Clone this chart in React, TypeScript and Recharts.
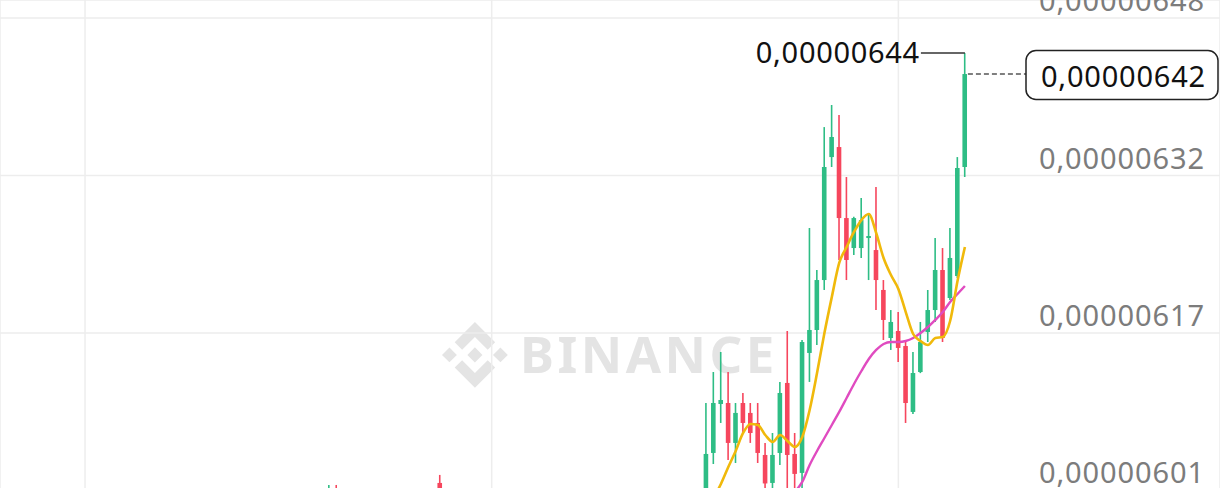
import { Bar, CartesianGrid, ComposedChart, Line, ReferenceDot, XAxis, YAxis } from 'recharts'

const CHART_W = 1220
const CHART_H = 500
const SLOTS = 165
const GREEN = '#2EBD85'
const RED = '#F6465D'
const FONT = '"Noto Sans", sans-serif'

// prices are in units of 0.00000001
const candleSlots = [44, 45, 59, 95, 96, 97, 98, 99, 100, 101, 102, 103, 104, 105, 106, 107, 108, 109, 110, 111, 112, 113, 114, 115, 116, 117, 118, 119, 120, 121, 122, 123, 124, 125, 126, 127, 128, 129, 130]
const opens = [599.0, 600.5, 601.65, 600.45, 604.64, 609.52, 609.62, 605.64, 609.62, 608.63, 607.63, 604.44, 601.65, 604.64, 611.62, 604.54, 602.65, 614.61, 616.9, 621.88, 634.14, 635.14, 628.06, 625.07, 625.07, 626.07, 624.87, 620.89, 616.1, 616.8, 615.3, 608.73, 612.71, 616.7, 618.89, 622.88, 620.09, 622.28, 633.15]
const highs = [601.45, 601.45, 602.45, 609.62, 612.71, 614.71, 612.71, 609.62, 610.62, 609.62, 609.62, 605.64, 606.63, 611.72, 616.8, 606.63, 615.9, 627.07, 622.88, 637.13, 639.33, 638.33, 632.15, 628.2, 630.06, 628.56, 631.15, 621.88, 618.89, 618.69, 615.7, 614.71, 617.7, 620.89, 626.07, 625.07, 627.07, 634.14, 644.51]
const lows = [598.5, 599.0, 599.2, 599.6, 603.54, 607.63, 603.94, 603.64, 606.63, 605.64, 603.64, 600.75, 600.75, 603.44, 600.45, 600.45, 600.9, 611.72, 615.4, 620.89, 633.15, 623.88, 621.88, 624.38, 624.08, 621.88, 618.89, 615.9, 614.91, 613.71, 607.63, 608.53, 612.6, 615.7, 617.7, 615.7, 619.89, 622.08, 632.15]
const closes = [600.6, 599.5, 599.8, 604.54, 609.62, 609.92, 605.64, 608.63, 607.63, 606.63, 604.64, 601.6, 604.44, 610.62, 604.44, 602.55, 615.7, 616.9, 621.88, 633.15, 636.14, 628.06, 623.88, 628.06, 627.86, 626.27, 621.88, 617.9, 617.7, 615.11, 609.62, 612.61, 615.7, 618.89, 622.88, 616.1, 624.08, 633.05, 642.42]

const ma7Start = 95
const ma7 = [598.96, 600.15, 601.55, 603.24, 604.84, 606.63, 607.53, 607.43, 606.43, 605.74, 606.43, 605.84, 605.24, 606.23, 608.93, 612.61, 616.6, 620.19, 623.58, 625.17, 626.67, 627.86, 628.46, 626.57, 624.08, 622.38, 620.99, 618.69, 616.5, 615.8, 615.4, 616.1, 616.2, 617.8, 621.78, 625.17]
const ma25Start = 104
const ma25 = [598.46, 599.16, 599.95, 600.75, 601.75, 603.44, 604.84, 606.13, 607.43, 608.73, 610.12, 611.52, 612.81, 614.01, 614.91, 615.5, 615.7, 615.7, 615.8, 616.1, 616.6, 617.2, 617.9, 618.69, 619.69, 620.49, 621.29]

const priceTicks = [648, 632.3, 616.6, 600.9]
const priceDomain = [599.95, 649.8]
const timeTicks = [11, 66, 121]

const rows = Array.from({ length: SLOTS }, (_, t) => {
    const k = candleSlots.indexOf(t)
    const a = t - ma7Start
    const b = t - ma25Start
    return {
        t,
        open: k >= 0 ? opens[k] : null,
        high: k >= 0 ? highs[k] : null,
        low: k >= 0 ? lows[k] : null,
        close: k >= 0 ? closes[k] : null,
        range: k >= 0 ? [lows[k], highs[k]] : null,
        ma7: a >= 0 && a < ma7.length ? ma7[a] : null,
        ma25: b >= 0 && b < ma25.length ? ma25[b] : null,
    }
})

const last = candleSlots.length - 1

const fmtTick = (v: number) => (Math.round(v) / 1e8).toFixed(8).replace('.', ',')
const fmtPrice = (v: number) => (Math.floor(v + 1e-6) / 1e8).toFixed(8).replace('.', ',')

const Candle = (props: any) => {
    const { x, y, width, height, payload } = props
    if (!payload || payload.high == null || height == null) return null
    const { open, high, low, close } = payload
    const top = Math.min(y, y + height)
    const h = Math.abs(height)
    const ppu = h / (high - low)
    const yOf = (v: number) => top + (high - v) * ppu
    const color = close >= open ? GREEN : RED
    const bTop = yOf(Math.max(open, close))
    const bBot = yOf(Math.min(open, close))
    const cx = x + width / 2
    return (
        <g>
            <line x1={cx} x2={cx} y1={top} y2={top + h} stroke={color} strokeWidth={1.6} />
            <rect x={cx - 2.3} y={bTop} width={4.6} height={Math.max(bBot - bTop, 1.5)} fill={color} />
        </g>
    )
}

const PriceTick = ({ y, payload }: any) => (
    <text x={CHART_W - 15} y={y - 7} textAnchor="end" fontSize={29} letterSpacing={0.9} fill="#7C7C7C" fontFamily={FONT}>
        {fmtTick(payload.value)}
    </text>
)

const HighMarker = ({ cx, cy }: any) => (
    <g>
        <line x1={cx - 44} x2={cx} y1={cy} y2={cy} stroke="#333" strokeWidth={1.5} />
        <text x={cx - 45} y={cy + 10} textAnchor="end" fontSize={29} letterSpacing={0.7} fill="#111" fontFamily={FONT}>
            {fmtPrice(highs[last])}
        </text>
    </g>
)

const LastMarker = ({ cx, cy }: any) => {
    const boxX = CHART_W - 194
    return (
        <g>
            <line x1={cx + 3} x2={boxX} y1={cy} y2={cy} stroke="#555" strokeWidth={1.3} strokeDasharray="5 3" />
            <rect x={boxX} y={cy - 23.5} width={192} height={49} rx={10} fill="#fff" stroke="#222" strokeWidth={1.5} />
            <text x={CHART_W - 14} y={cy + 13} textAnchor="end" fontSize={29} letterSpacing={0.8} fill="#111" fontFamily={FONT}>
                {fmtPrice(closes[last])}
            </text>
        </g>
    )
}

const Watermark = () => (
    <svg width={CHART_W} height={CHART_H} style={{ position: 'absolute', left: 0, top: 0 }}>
        <g transform="translate(442,322) scale(0.52)" fill="#E4E4E4">
            <path d="M38.73 53.2 63.3 28.63l24.58 24.58 14.3-14.29L63.3 0 24.43 38.9z" />
            <path d="M0 63.31 14.3 49.01l14.29 14.3L14.3 77.6z" />
            <path d="M38.73 73.41 63.3 98l24.58-24.58 14.3 14.29L63.3 126.61 24.43 87.72z" />
            <path d="M98 63.31 112.3 49.01l14.3 14.3-14.3 14.3z" />
            <path d="M77.83 63.3 63.3 48.76 48.77 63.29 63.3 77.83z" />
        </g>
        <text x={520} y={373} fontSize={51} fontWeight={700} fill="#E4E4E4" fontFamily={FONT} letterSpacing={3.5}>
            BINANCE
        </text>
    </svg>
)

const App = () => (
    <div style={{ position: 'relative', width: CHART_W, height: CHART_H }}>
        <style>{'html,body{margin:0;padding:0;overflow:hidden;background:#fff}'}</style>
        <Watermark />
        <div style={{ position: 'absolute', left: 0, top: 0 }}>
            <ComposedChart width={CHART_W} height={CHART_H} data={rows} margin={{ top: 0, right: 0, bottom: 0, left: 0 }}>
                <CartesianGrid stroke="#EDEDED" strokeWidth={1.5} />
                <XAxis dataKey="t" type="category" ticks={timeTicks} interval={0} hide />
                <YAxis
                    orientation="right"
                    mirror
                    domain={priceDomain}
                    ticks={priceTicks}
                    allowDataOverflow
                    axisLine={false}
                    tickLine={false}
                    tick={<PriceTick />}
                />
                <Bar dataKey="range" barSize={5} shape={<Candle />} isAnimationActive={false} />
                <Line type="monotone" dataKey="ma25" stroke="#E04BC0" strokeWidth={2.4} dot={false} isAnimationActive={false} />
                <Line type="monotone" dataKey="ma7" stroke="#F0B90B" strokeWidth={2.6} dot={false} isAnimationActive={false} />
                <ReferenceDot x={candleSlots[last]} y={highs[last]} shape={<HighMarker />} />
                <ReferenceDot x={candleSlots[last]} y={closes[last]} shape={<LastMarker />} />
            </ComposedChart>
        </div>
    </div>
)

export default App
